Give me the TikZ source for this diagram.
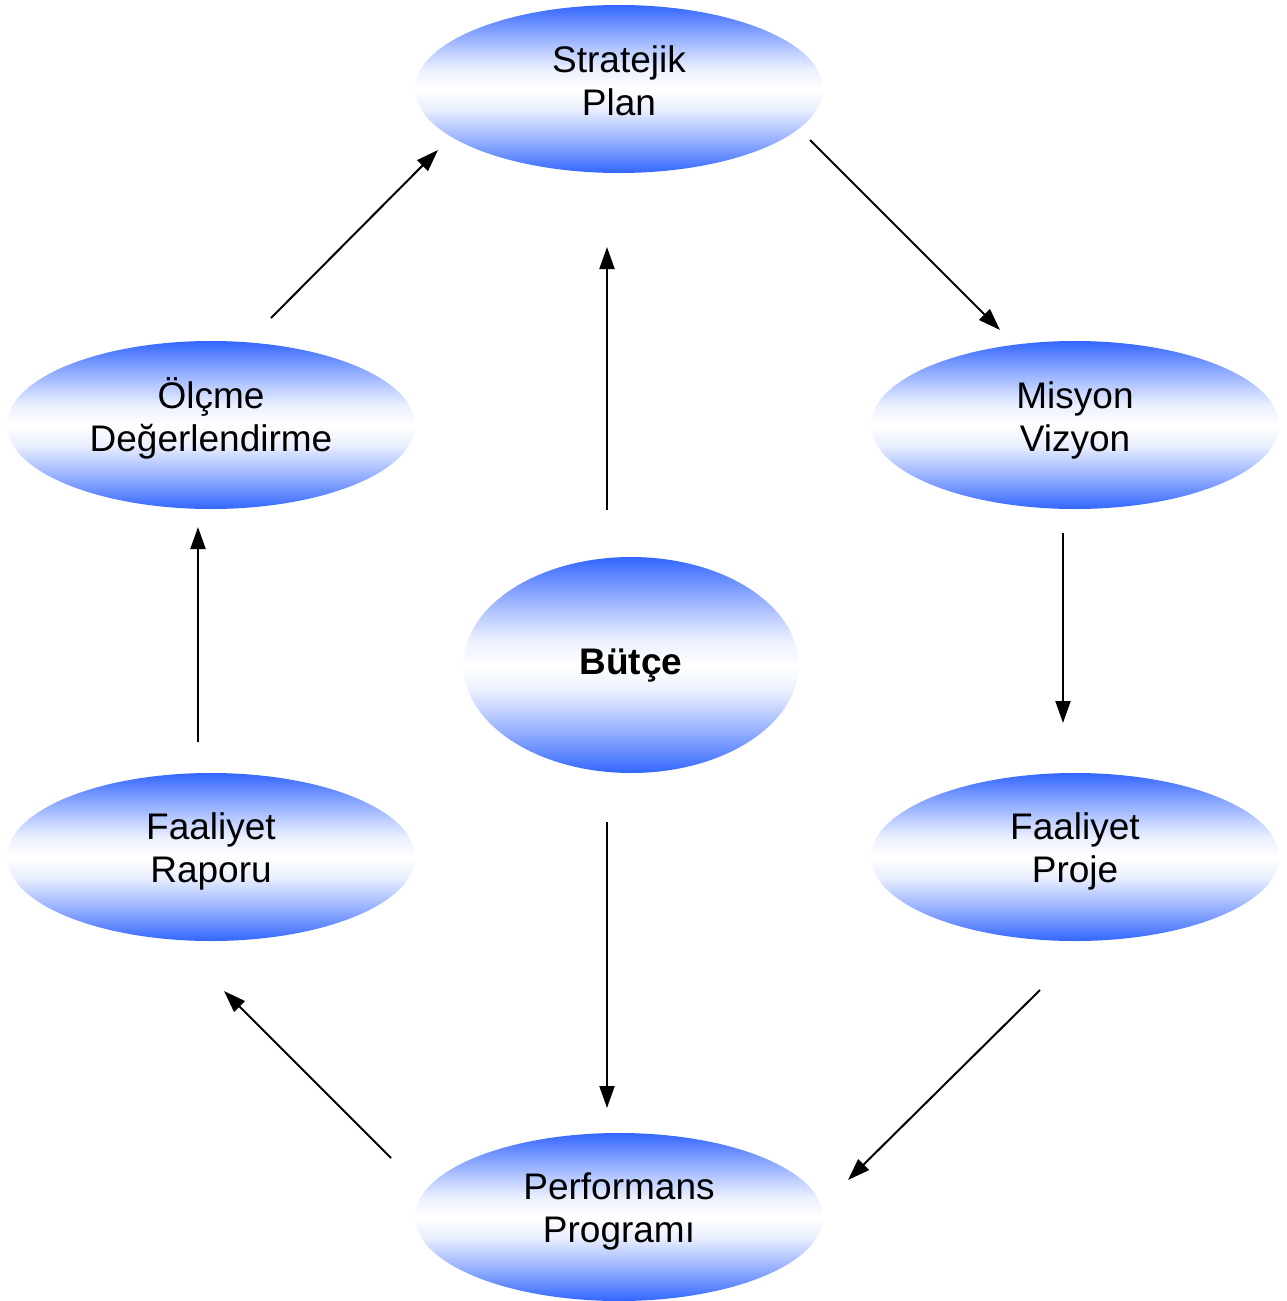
\documentclass[tikz,border=0pt]{standalone}
\usepackage{fontspec}
\setmainfont{Liberation Sans}
\usetikzlibrary{shapes.geometric,arrows.meta}
\definecolor{eblue}{RGB}{51,102,255}
\pgfdeclareverticalshading{ovalshade}{100bp}{color(0bp)=(eblue); color(25bp)=(eblue); color(35bp)=(eblue!50); color(44bp)=(eblue!10); color(50bp)=(white); color(56bp)=(eblue!10); color(65bp)=(eblue!50); color(75bp)=(eblue); color(100bp)=(eblue)}
\tikzset{
  oval/.style={ellipse, inner sep=0pt, minimum width=408pt, minimum height=168pt,
    shading=ovalshade},
  lbl/.style={align=center, inner sep=0pt, font=\fontsize{37}{43}\selectfont},
  flow/.style={line width=2pt, -{Triangle[length=22pt,width=15pt]}}
}
\begin{document}
\begin{tikzpicture}[x=1pt,y=-1pt]
\useasboundingbox (0,0) rectangle (1287,1301);
\node[oval] (sp) at (619,89) {};
\node[oval] (mv) at (1075,425) {};
\node[oval] (od) at (211,425) {};
\node[oval, minimum width=335pt, minimum height=216pt] (bu) at (631,665) {};
\node[oval] (fp) at (1075,857) {};
\node[oval] (fr) at (211,857) {};
\node[oval] (pp) at (619,1217) {};
\node[lbl] (tsp) at ([yshift=8pt]sp.center) {Stratejik\\Plan};
\node[lbl] (tmv) at ([yshift=5pt]mv.center) {Misyon\\Vizyon};
\node[lbl] (tod) at ([yshift=7pt]od.center) {Ölçme\\Değerlendirme};
\node[lbl] (tbu) at ([yshift=-1pt]bu.center) {\textbf{Bütçe}};
\node[lbl] (tfp) at ([yshift=6pt]fp.center) {Faaliyet\\Proje};
\node[lbl] (tfr) at ([yshift=6pt]fr.center) {Faaliyet\\Raporu};
\node[lbl] (tpp) at ([yshift=6pt]pp.center) {Performans\\Programı};
\coordinate (a1s) at (810,140); \coordinate (a1e) at (1000,330);
\coordinate (a2s) at (1063,533); \coordinate (a2e) at (1063,723);
\coordinate (a3s) at (1040,990); \coordinate (a3e) at (848,1180);
\coordinate (a4s) at (391,1158); \coordinate (a4e) at (224,991);
\coordinate (a5s) at (198,742); \coordinate (a5e) at (198,527);
\coordinate (a6s) at (271,318); \coordinate (a6e) at (438,150);
\coordinate (a7s) at (607,510); \coordinate (a7e) at (607,247);
\coordinate (a8s) at (607,822); \coordinate (a8e) at (607,1108);
\draw[flow] (a1s) -- (a1e);
\draw[flow] (a2s) -- (a2e);
\draw[flow] (a3s) -- (a3e);
\draw[flow] (a4s) -- (a4e);
\draw[flow] (a5s) -- (a5e);
\draw[flow] (a6s) -- (a6e);
\draw[flow] (a7s) -- (a7e);
\draw[flow] (a8s) -- (a8e);
\end{tikzpicture}
\end{document}
